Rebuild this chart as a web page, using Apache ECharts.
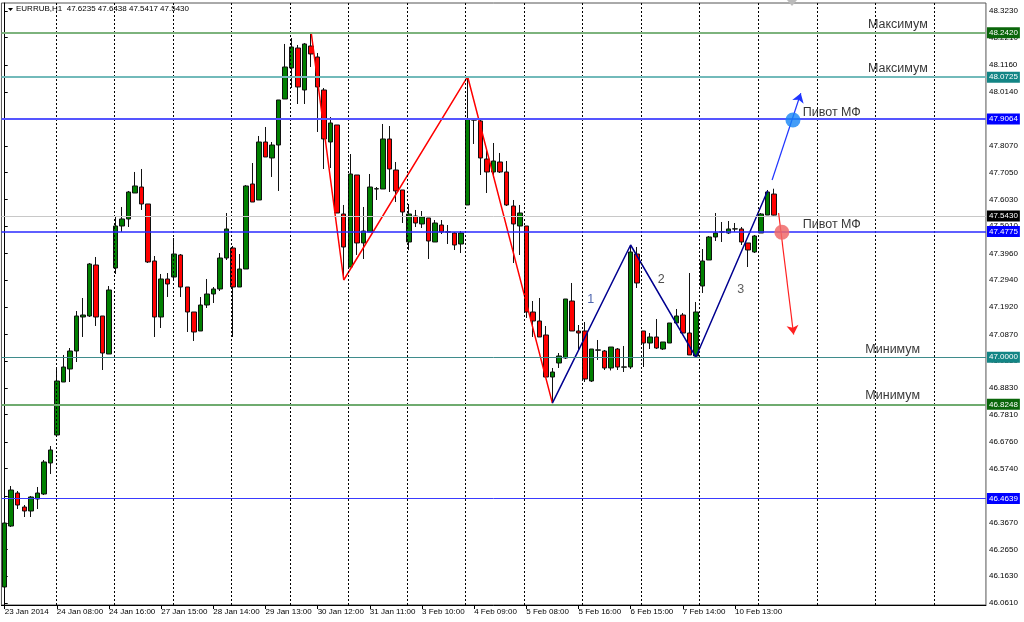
<!DOCTYPE html>
<html><head><meta charset="utf-8">
<script src="https://cdn.jsdelivr.net/npm/echarts@6/dist/echarts.min.js"></script>
<style>html,body{margin:0;padding:0;background:#fff}#c{width:1024px;height:622px}</style>
</head><body><div id="c"></div>
<script>
// ---------- data ----------
const timeLabels = ['23 Jan 2014','24 Jan 08:00','24 Jan 16:00','27 Jan 15:00','28 Jan 14:00','29 Jan 13:00','30 Jan 12:00','31 Jan 11:00','3 Feb 10:00','4 Feb 09:00','5 Feb 08:00','5 Feb 16:00','6 Feb 15:00','7 Feb 14:00','10 Feb 13:00'];
// [open, high, low, close]
const ohlc = [
[46.1220,46.3780,46.1105,46.3665],[46.3550,46.5079,46.3512,46.4926],[46.4811,46.4888,46.4200,46.4353],[46.4276,46.4353,46.3894,46.4124],
[46.4124,46.4697,46.3894,46.4659],[46.4582,46.5041,46.4200,46.4811],[46.4773,46.6073,46.4735,46.5996],[46.5958,46.6607,46.5538,46.6455],
[46.7028,46.9550,46.6951,46.9091],[46.9053,47.0085,46.9053,46.9626],[46.9550,47.0352,46.9053,47.0238],[47.0238,47.1766,46.9817,47.1575],
[47.1537,47.2263,47.0773,47.1613],[47.1575,47.3600,47.1537,47.3562],[47.3524,47.3830,47.1193,47.1537],[47.1575,47.1575,46.9512,47.0161],
[47.0123,47.2721,47.0123,47.2569],[47.3409,47.5358,47.3180,47.5014],[47.5014,47.5740,47.4785,47.5282],[47.5282,47.6352,47.4976,47.6313],
[47.6275,47.7078,47.6275,47.6543],[47.6504,47.7192,47.5626,47.5855],[47.5855,47.5855,47.3600,47.3639],[47.3677,47.3868,47.0773,47.1537],
[47.1537,47.3180,47.1117,47.2989],[47.2989,47.3218,47.2301,47.2798],[47.3065,47.4556,47.2951,47.3944],[47.3906,47.3944,47.2301,47.2683],
[47.2683,47.2683,47.0964,47.1728],[47.1728,47.1728,47.0620,47.0964],[47.1002,47.2301,47.1002,47.1995],[47.1995,47.2989,47.1881,47.2416],
[47.2416,47.2683,47.2072,47.2607],[47.2607,47.3982,47.2530,47.3791],[47.3791,47.5511,47.3715,47.4900],[47.4173,47.4250,47.0773,47.2683],
[47.2683,47.3944,47.2683,47.3371],[47.3371,47.6581,47.3371,47.6543],[47.6619,47.7421,47.5931,47.5931],[47.6008,47.8453,47.6008,47.8224],
[47.8224,47.8797,47.7651,47.7651],[47.7613,47.8224,47.6887,47.8109],[47.8109,47.9829,47.6352,47.9829],[47.9867,48.1969,47.9867,48.1090],
[48.1052,48.2198,48.0287,48.1854],[48.1816,48.1931,47.9676,48.0326],[48.0211,48.2007,47.9676,48.1969],[48.1892,48.2420,48.1090,48.1587],
[48.1472,48.1625,47.8606,48.0326],[48.0211,48.0287,47.7192,47.8339],[47.8224,47.9179,47.7230,47.8950],[47.8874,47.8874,47.5511,47.5511],
[47.5473,47.5817,47.2951,47.4212],[47.3447,47.7765,47.3447,47.7001],[47.6963,47.6963,47.3906,47.4365],[47.4365,47.5740,47.3753,47.4823],
[47.4785,47.7001,47.4785,47.6504],[47.6428,47.6504,47.6008,47.6440],[47.6428,47.8912,47.6428,47.8339],[47.8339,47.8835,47.6313,47.7192],
[47.7154,47.7460,47.5931,47.6352],[47.6390,47.6390,47.5129,47.5549],[47.4403,47.5855,47.4097,47.5473],[47.5396,47.5626,47.4976,47.5129],
[47.5091,47.5587,47.4938,47.5358],[47.5320,47.5320,47.3753,47.4441],[47.4403,47.5243,47.4403,47.5129],[47.5052,47.5243,47.4708,47.4785],
[47.4790,47.5052,47.4326,47.4780],[47.4747,47.4785,47.4097,47.4288],[47.4326,47.4823,47.3982,47.4747],[47.5817,48.0725,47.5817,47.9103],
[47.9060,47.9103,47.8148,47.9070],[47.9027,47.9065,47.6963,47.7613],[47.7574,47.7918,47.6275,47.7078],[47.7078,47.8186,47.6848,47.7498],
[47.7460,47.7804,47.7039,47.7078],[47.7078,47.7498,47.5778,47.5817],[47.5778,47.6008,47.3600,47.5091],[47.5014,47.5817,47.3906,47.5511],
[47.5014,47.5014,47.1499,47.1728],[47.1728,47.2148,47.0773,47.1384],[47.1384,47.2263,47.0773,47.0773],[47.0849,47.1193,46.9206,46.9244],
[46.9244,46.9588,46.8248,46.9435],[46.9779,47.0161,46.9588,47.0047],[46.9970,47.2225,46.9932,47.2225],[47.2148,47.2836,47.1002,47.1002],
[47.1002,47.1231,47.0276,47.0925],[47.1002,47.1346,46.9053,46.9168],[46.9091,47.0314,46.9053,47.0314],[47.0270,47.0658,46.9894,47.0280],
[47.0238,47.0276,46.9512,46.9588],[46.9588,47.0390,46.9494,47.0390],[47.0314,47.0352,46.9512,46.9626],[46.9620,47.0429,46.9435,46.9630],
[46.9626,47.4288,46.9550,47.4021],[47.3944,47.4212,47.2645,47.2836],[47.1002,47.1002,46.9626,47.0543],[47.0543,47.0925,47.0314,47.0773],
[47.0773,47.1460,47.0314,47.0352],[47.0314,47.0582,47.0276,47.0582],[47.0543,47.1308,47.0543,47.1308],[47.1308,47.1843,47.1231,47.1575],
[47.1613,47.1690,47.0925,47.0925],[47.0925,47.3218,47.0085,47.0085],[47.0047,47.2110,47.0000,47.1728],[47.2721,47.4135,47.2454,47.3677],
[47.3715,47.4632,47.3715,47.4594],[47.4594,47.5511,47.4441,47.4747],[47.4790,47.5167,47.4403,47.4785],[47.4747,47.5205,47.4708,47.4900],
[47.4900,47.5129,47.4785,47.4905],[47.4900,47.4976,47.4288,47.4403],[47.4365,47.4365,47.3447,47.4097],[47.4021,47.4670,47.3982,47.4632],
[47.4747,47.5511,47.4747,47.5473],[47.5434,47.6390,47.5434,47.6313],[47.6235,47.6438,47.5417,47.5430]
];
const yTicks = [48.3230,48.2210,48.1160,48.0140,47.9100,47.8070,47.7050,47.6030,47.5010,47.3960,47.2940,47.1920,47.0870,46.9850,46.8830,46.7810,46.6760,46.5740,46.4700,46.3670,46.2650,46.1630,46.0610];
const levelPrices = [48.2420, 48.0725, 47.9064, 47.5430, 47.4775, 47.0000, 46.8248, 46.4639];
const levelNotes  = ['Максимум','Максимум','Пивот МФ','','Пивот МФ','Минимум','Минимум',''];
const zigzagRed  = [[47,48.2420],[52,47.2951],[71,48.0725],[84,46.8248]];
const zigzagBlue = [[84,46.8248],[96,47.4288],[106,47.0000],[117,47.6352]];
const arrowUp   = [[117.7,47.6772],[122.1,48.0085]];
const arrowDown = [[118.7,47.5510],[121.0,47.0869]];
const pivotUp   = [120.9,47.9064];
const pivotDown = [119.2,47.4775];
const waveNames  = ['1','2','3'];
const wavePoints = [[89.9,47.2187],[100.7,47.2951],[112.9,47.2569]];
const titleText = 'EURRUB,H1  47.6235 47.6438 47.5417 47.5430';

// ---------- layout / style ----------
const N = 151;
const FONT = 'Liberation Sans, Arial, sans-serif';
const categories = Array.from({length: N}, (_, i) => String(i));
const showTick = i => i % 8 === 0 && i / 8 < timeLabels.length;
const levelStyle = [
  {line:'#7db37d', w:2, box:'#0a660a'},
  {line:'#72baba', w:2, box:'#138585'},
  {line:'#5555ff', w:2, box:'#0000ff'},
  {line:'#c8c8c8', w:1, box:'#000000'},
  {line:'#2a2aff', w:1.5, box:'#0000ff'},
  {line:'#3f8c8c', w:1, box:'#138585'},
  {line:'#6fab6f', w:2, box:'#0a660a'},
  {line:'#3a3aff', w:1, box:'#0000ff'}
];
const noteX = {'Максимум':132.4, 'Пивот МФ':122.4, 'Минимум':132.0};
const waveColors = ['#23409a', '#222', '#333'];
const gridXs = Array.from({length: 16}, (_, k) => 7.87 + 8.975 * k);

const chart = echarts.init(document.getElementById('c'), null, {renderer:'canvas'});
const levelLines = levelPrices.map((v, i) => ({
  yAxis: v,
  lineStyle: {color: levelStyle[i].line, width: levelStyle[i].w, type: 'solid'},
  label: {show: true, position: 'end', distance: 1, formatter: () => v.toFixed(4),
          color: '#fff', backgroundColor: levelStyle[i].box, fontSize: 8, fontFamily: FONT,
          padding: [2, 2, 1, 2]}
}));
const vLines = gridXs.map(x => ({xAxis: x, lineStyle: {color: '#000', width: 1, type: [2, 2]}, label: {show: false}}));

const notes = [];
levelPrices.forEach((v, i) => { if (levelNotes[i]) notes.push({value: [noteX[levelNotes[i]], v], name: levelNotes[i]}); });

chart.setOption({
  animation: false,
  backgroundColor: '#fff',
  grid: {left: 1.45, right: 38.05, top: 3, bottom: 17, show: true, borderColor: '#555', borderWidth: 1, backgroundColor: '#fff'},
  xAxis: [
    {type: 'category', data: categories, boundaryGap: true,
     axisLine: {show: true, lineStyle: {color: '#000'}},
     axisTick: {show: true, alignWithLabel: true, interval: showTick, length: 4, lineStyle: {color: '#000'}},
     axisLabel: {interval: showTick, formatter: v => timeLabels[Number(v) / 8] || '', align: 'left',
                 fontSize: 8, color: '#000', margin: 3, fontFamily: FONT},
     splitLine: {show: false}},
    {type: 'value', min: -0.5, max: N - 0.5, show: false}
  ],
  yAxis: [{type: 'value', position: 'right', min: 46.0532, max: 48.3535, scale: true,
    splitLine: {show: false},
    axisLine: {show: true, lineStyle: {color: '#000'}},
    axisTick: {show: true, length: 3, customValues: yTicks, lineStyle: {color: '#000'}},
    axisLabel: {customValues: yTicks, formatter: v => Number(v).toFixed(4), fontSize: 8, color: '#000', margin: 3, fontFamily: FONT}
  }],
  graphic: [
    {type: 'polygon', shape: {points: [[8, 8], [13, 8], [10.5, 11]]}, style: {fill: '#000'}},
    {type: 'text', left: 16, top: 5, style: {text: titleText, font: '8px ' + FONT, fill: '#000'}},
    {type: 'polygon', shape: {points: [[787, 0], [797, 0], [792, 6]]}, style: {fill: '#bbb'}}
  ],
  series: [
    {type: 'line', xAxisIndex: 1, yAxisIndex: 0, data: [[0, 47]], symbol: 'none', lineStyle: {opacity: 0}, z: 1, silent: true,
     markLine: {silent: true, symbol: ['none', 'none'], data: vLines.concat(levelLines)}},
    {type: 'candlestick', xAxisIndex: 0, yAxisIndex: 0, z: 3, barWidth: 5,
     data: ohlc.map(r => [r[0], r[3], r[2], r[1]]),
     itemStyle: {color: '#008000', color0: '#ff0000', borderColor: '#111', borderColor0: '#111', borderWidth: 1}},
    {type: 'line', xAxisIndex: 1, yAxisIndex: 0, data: zigzagRed, symbol: 'none', z: 4,
     lineStyle: {color: '#ff0000', width: 1.5}},
    {type: 'line', xAxisIndex: 1, yAxisIndex: 0, data: zigzagBlue, symbol: 'none', z: 4,
     lineStyle: {color: '#000090', width: 1.5}},
    {type: 'lines', coordinateSystem: 'cartesian2d', xAxisIndex: 1, yAxisIndex: 0, z: 5,
     symbol: ['none', 'arrow'], symbolSize: 9,
     data: [{coords: arrowUp, lineStyle: {color: '#1f35ff', width: 1.2, opacity: 1}},
            {coords: arrowDown, lineStyle: {color: '#ff2020', width: 1.2, opacity: 1}}]},
    {type: 'scatter', xAxisIndex: 1, yAxisIndex: 0, z: 6, symbolSize: 15,
     data: [{value: pivotUp, itemStyle: {color: '#1585f5'}},
            {value: pivotDown, itemStyle: {color: '#f06a6a', opacity: 0.85}}]},
    {type: 'scatter', xAxisIndex: 1, yAxisIndex: 0, z: 6, symbolSize: 0, silent: true,
     data: notes,
     label: {show: true, position: [0, -14], formatter: p => p.name, color: '#000', fontSize: 12.5, fontFamily: FONT, lineHeight: 13, verticalAlign: 'top'}},
    {type: 'scatter', xAxisIndex: 1, yAxisIndex: 0, z: 6, symbolSize: 0, silent: true,
     data: wavePoints.map((p, i) => ({value: p, name: waveNames[i], label: {color: waveColors[i]}})),
     label: {show: true, position: 'inside', formatter: p => p.name, fontSize: 12.5, fontFamily: FONT}}
  ]
});
</script>
</body></html>
